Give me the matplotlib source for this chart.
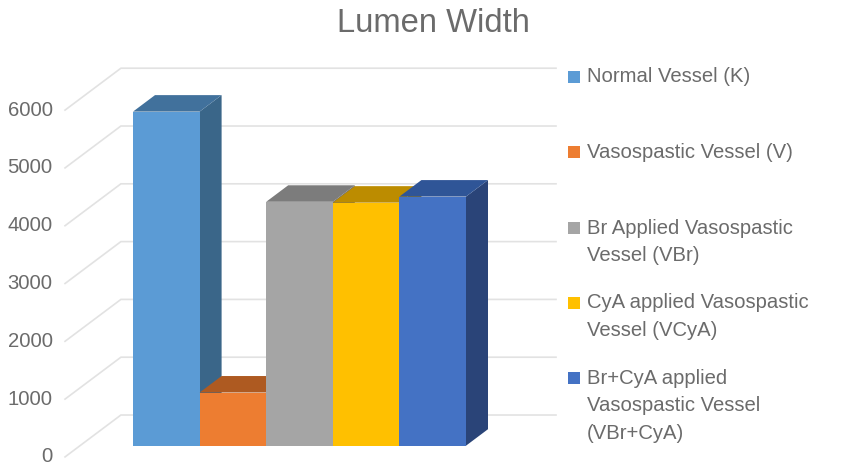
import matplotlib
matplotlib.use("Agg")
import matplotlib.pyplot as plt
from matplotlib.patches import Polygon, Rectangle
from matplotlib.transforms import Affine2D

plt.rcParams["font.family"] = ["Liberation Sans", "DejaVu Sans"]

# Chart data
title = "Lumen Width"
series_labels = [
    "Normal Vessel (K)",
    "Vasospastic Vessel (V)",
    "Br Applied Vasospastic\nVessel (VBr)",
    "CyA applied Vasospastic\nVessel (VCyA)",
    "Br+CyA applied\nVasospastic Vessel\n(VBr+CyA)",
]
values = [5780, 920, 4220, 4205, 4310]
y_ticks = [0, 1000, 2000, 3000, 4000, 5000, 6000]

# Face colours of each box
front_colors = ["#5b9bd5", "#ed7d31", "#a5a5a5", "#ffc000", "#4472c4"]
top_colors = ["#41719c", "#ae5a21", "#7c7c7c", "#bc8c00", "#2f5597"]
side_colors = ["#3a6689", "#9c4f1c", "#6e6e6e", "#a87e00", "#2a4478"]

TEXT_COLOR = "#6b6b6b"
GRID_COLOR = "#e2e2e2"

W, H = 851, 465
fig = plt.figure(figsize=(W / 100, H / 100), dpi=100)
ax = fig.add_axes([0, 0, 1, 1])

# Scale of the bar plane: one category and 1000 units, in pixels
CAT_PX, KILO_PX = 66.6, 57.8
LEFT_PX, BASE_PX = 133.0, 445.7
ax.set_xlim(-0.5 - LEFT_PX / CAT_PX, -0.5 + (W - LEFT_PX) / CAT_PX)
ax.set_ylim(-(H - BASE_PX) / KILO_PX * 1000, BASE_PX / KILO_PX * 1000)
ax.axis("off")

# Oblique projection: one depth unit is the depth of a box
DEPTH_X = 22.0 / CAT_PX
DEPTH_Y = 16.5 / KILO_PX * 1000


def project(x, value, depth=0.0):
    return x + depth * DEPTH_X, value + depth * DEPTH_Y


# Gridlines: across the floor edge, then along the back wall
WALL_FRONT, WALL_BACK = -0.68, 1.86
GRID_X0 = -1.296
GRID_X1 = (556 - LEFT_PX) / CAT_PX - 0.5 - WALL_BACK * DEPTH_X
for tick in y_ticks:
    pts = [
        project(GRID_X0, tick, WALL_FRONT),
        project(GRID_X0, tick, WALL_BACK),
        project(GRID_X1, tick, WALL_BACK),
    ]
    ax.plot(*zip(*pts), color=GRID_COLOR, lw=1.2, solid_joinstyle="miter", zorder=1)
    lx, ly = project(GRID_X0, tick, WALL_FRONT)
    ax.annotate(str(tick), (lx, ly), xytext=(-12.5, 0), textcoords="offset pixels",
                ha="right", va="center", fontsize=14.6, color=TEXT_COLOR)

# Boxes, left to right so that each front covers its neighbour's side
for i, v in enumerate(values):
    l, r = i - 0.5, i + 0.5
    side = [project(r, 0), project(r, 0, 1), project(r, v, 1), project(r, v)]
    top = [project(l, v), project(r, v), project(r, v, 1), project(l, v, 1)]
    front = [project(l, 0), project(r, 0), project(r, v), project(l, v)]
    ax.add_patch(Polygon(side, closed=True, fc=side_colors[i], ec="none", zorder=2))
    ax.add_patch(Polygon(top, closed=True, fc=top_colors[i], ec="none", zorder=2))
    ax.add_patch(Polygon(front, closed=True, fc=front_colors[i], ec="none", zorder=2))

fig.text(433 / W, 1 - 24 / H, title, ha="center", va="center",
         fontsize=23.6, color=TEXT_COLOR)

# Legend, with entries placed at their own heights
legend_y = [77, 152, 228, 303, 378]
LINE_PX = 27.5
for label, color, y in zip(series_labels, front_colors, legend_y):
    fig.add_artist(Rectangle((568 / W, 1 - (y + 6) / H), 12 / W, 12 / H,
                             transform=fig.transFigure, fc=color, ec="none"))
    for n, line in enumerate(label.split("\n")):
        fig.text(587 / W, 1 - (y + n * LINE_PX) / H, line, ha="left", va="center",
                 fontsize=14.6, color=TEXT_COLOR)

fig.savefig("out.png", dpi=100)
